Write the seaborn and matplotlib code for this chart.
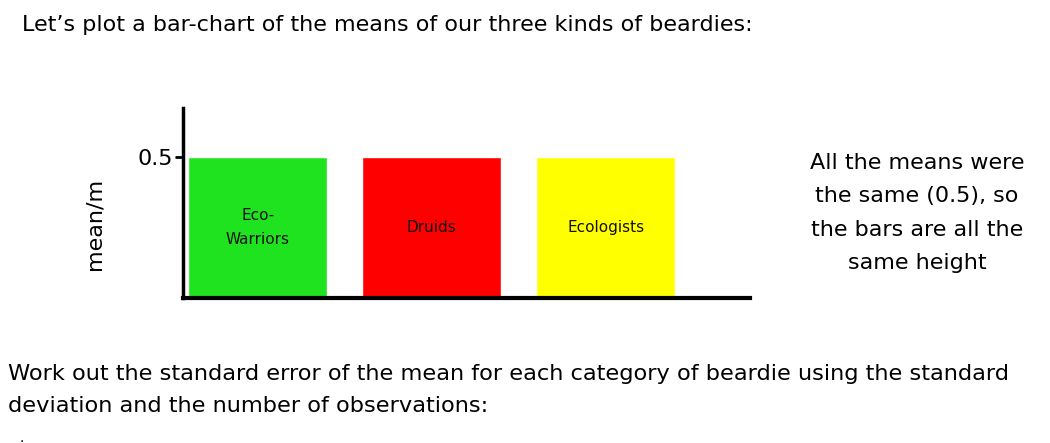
# Bar chart of the mean of three kinds of beardies
import pandas as pd
import matplotlib.pyplot as plt
import seaborn as sns

# Data
groups = ["Eco-\nWarriors", "Druids", "Ecologists"]
means = [0.5, 0.5, 0.5]
bar_colours = ["#1ee31e", "#ff0000", "#ffff00"]
y_ticks = [0.5]

df = pd.DataFrame({"group": groups, "mean": means})

sns.set_style("white")
plt.rcParams["font.family"] = ["DejaVu Sans"]
plt.rcParams["text.color"] = "black"
plt.rcParams["axes.labelcolor"] = "black"
plt.rcParams["ytick.color"] = "black"

fig = plt.figure(figsize=(10.5, 4.43), dpi=100)
ax = fig.add_axes([0.1743, 0.3273, 0.5400, 0.4290])

sns.barplot(data=df, x="group", y="mean", hue="group", palette=bar_colours,
            saturation=1, width=0.8, legend=False, ax=ax)

# label each bar inside it
for i, bar in enumerate(ax.patches):
    ax.text(bar.get_x() + bar.get_width() / 2, bar.get_height() * 0.5, groups[i],
            ha="center", va="center", fontsize=11, color="#111111", linespacing=1.7)

ax.set_xlim(-0.43, 2.83)
ax.set_ylim(0, 0.674)
ax.set_xticks([])
ax.set_yticks(y_ticks)
ax.set_yticklabels(["0.5"], fontsize=16)
ax.tick_params(axis="y", direction="out", length=6, width=2, pad=1, left=True)
ax.set_xlabel("")
ax.set_ylabel("mean/m", fontsize=16)
ax.yaxis.set_label_coords(-0.138, 0.39)

sns.despine(ax=ax)
ax.spines["left"].set_linewidth(2.5)
ax.spines["bottom"].set_linewidth(3)
ax.spines["left"].set_color("black")
ax.spines["bottom"].set_color("black")

# slide text
fig.text(22 / 1050, 1 - 25 / 443, "Let\u2019s plot a bar-chart of the means of our three kinds of beardies:",
         fontsize=16, ha="left", va="center")
fig.text(917 / 1050, 1 - 213 / 443,
         "All the means were\nthe same (0.5), so\nthe bars are all the\nsame height",
         fontsize=16, ha="center", va="center", linespacing=1.83)
fig.text(8 / 1050, 1 - 390 / 443,
         "Work out the standard error of the mean for each category of beardie using the standard\n"
         "deviation and the number of observations:",
         fontsize=16.2, ha="left", va="center", linespacing=1.78)
fig.text(22 / 1050, 1 - 438 / 443, ".", fontsize=10, ha="center", va="center")

plt.savefig("out.png", dpi=100)
